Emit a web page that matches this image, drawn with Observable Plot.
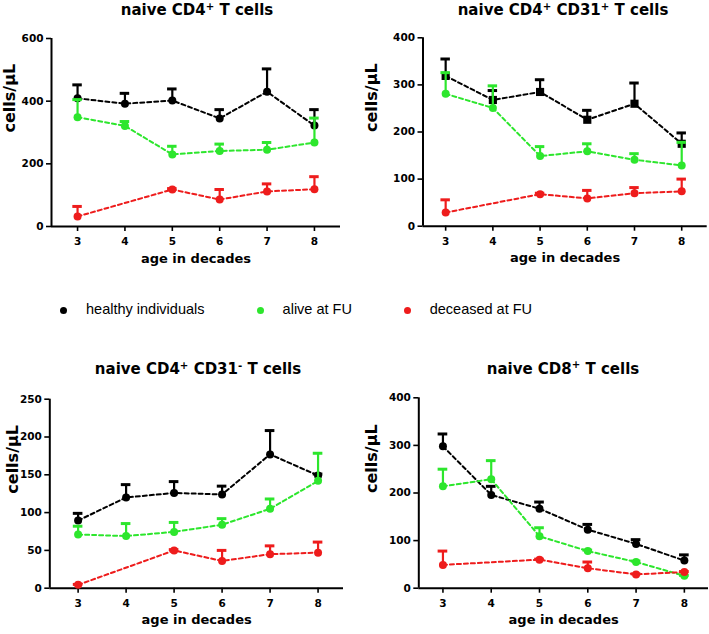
<!DOCTYPE html>
<html>
<head>
<meta charset="utf-8">
<script src="https://cdn.jsdelivr.net/npm/d3@7"></script>
<script src="https://cdn.jsdelivr.net/npm/@observablehq/plot@0.6"></script>
<style>
  html, body { margin: 0; padding: 0; background: #fff; }
  #page { position: relative; width: 709px; height: 634px; overflow: hidden; background: #fff; }
  .panel { position: absolute; }
  .title { position: absolute; font-family: "DejaVu Sans", sans-serif; font-weight: bold; font-size: 15px; line-height: 15px; white-space: nowrap; transform: translateX(-50%); color: #000; }
  .title sup { font-size: 0.68em; line-height: 0; vertical-align: baseline; position: relative; top: -0.5em; }
  .legend { position: absolute; font-family: "Liberation Sans", Arial, sans-serif; font-size: 14.5px; color: #000; white-space: nowrap; }
  .ldot { position: absolute; width: 7px; height: 7px; border-radius: 50%; }
  svg g[aria-label="x-axis tick"] path, svg g[aria-label="y-axis tick"] path { stroke-width: 1.6; }
</style>
</head>
<body>
<div id="page"></div>
<script>
// ---------- data ----------
const ages = [3, 4, 5, 6, 7, 8];
const deceasedAges = [3, 5, 6, 7, 8];
const seriesNames = ["healthy individuals", "alive at FU", "deceased at FU"];
const seriesColors = ["#000000", "#2de62d", "#ee1c1c"];

// naive CD4+ T cells
const cd4Healthy = [409, 392, 402, 345, 430, 322];
const cd4HealthyTop = [452, 425, 439, 373, 503, 373];
const cd4Alive = [349, 321, 230, 241, 245, 268];
const cd4AliveTop = [405, 335, 256, 263, 268, 346];
const cd4Deceased = [32, 118, 86, 112, 119];
const cd4DeceasedTop = [64, 121, 118, 136, 159];
const cd4Ticks = [0, 200, 400, 600];

// naive CD4+ CD31+ T cells
const cd31pHealthy = [319, 268, 285, 226, 260, 175];
const cd31pHealthyTop = [355, 288, 311, 246, 304, 198];
const cd31pAlive = [281, 251, 149, 159, 141, 129];
const cd31pAliveTop = [326, 298, 169, 175, 154, 178];
const cd31pDeceased = [29, 68, 59, 70, 74];
const cd31pDeceasedTop = [56, 70, 76, 82, 100];
const cd31pTicks = [0, 100, 200, 300, 400];

// naive CD4+ CD31- T cells
const cd31nHealthy = [89.5, 120, 126, 124, 177, 149];
const cd31nHealthyTop = [99, 137, 141, 135, 208.5, 151];
const cd31nAlive = [71, 69, 74.5, 84, 105, 142];
const cd31nAliveTop = [82, 85.5, 87, 92, 118, 178.5];
const cd31nDeceased = [4.4, 50, 36, 45, 47];
const cd31nDeceasedTop = [5, 51, 50, 56, 61];
const cd31nTicks = [0, 50, 100, 150, 200, 250];

// naive CD8+ T cells
const cd8Healthy = [298, 196, 167, 123, 93, 58];
const cd8HealthyTop = [324, 214, 181, 134, 102, 70];
const cd8Alive = [214, 229, 109, 78, 55, 26];
const cd8AliveTop = [250, 268, 127, 80, 57, 27];
const cd8Deceased = [49, 60, 42, 29, 34];
const cd8DeceasedTop = [78, 61, 55, 30, 35];
const cd8Ticks = [0, 100, 200, 300, 400];

// ---------- drawing ----------
const page = document.getElementById("page");

function rows(xs, vals, tops) {
  return xs.map((a, i) => ({age: a, v: vals[i], top: tops[i]}));
}

function seriesMarks(data, color, symbol) {
  return [
    Plot.line(data, {x: "age", y: "v", stroke: color, strokeWidth: 2, strokeDasharray: "4,3"}),
    Plot.ruleX(data, {x: "age", y1: "v", y2: "top", stroke: color, strokeWidth: 2.2}),
    Plot.ruleY(data, {y: "top", x1: d => d.age - 0.1, x2: d => d.age + 0.1, stroke: color, strokeWidth: 3}),
    Plot.dot(data, {x: "age", y: "v", fill: color, r: symbol === "square" ? 4.6 : 4, symbol: symbol || "circle"})
  ];
}

function panel(cfg) {
  const healthy = rows(ages, cfg.healthy, cfg.healthyTop);
  const alive = rows(ages, cfg.alive, cfg.aliveTop);
  const deceased = rows(deceasedAges, cfg.deceased, cfg.deceasedTop);
  const yMax = cfg.yTicks[cfg.yTicks.length - 1];
  const chart = Plot.plot({
    width: cfg.width,
    height: cfg.height,
    marginLeft: cfg.m[0], marginRight: cfg.m[1], marginTop: cfg.m[2], marginBottom: cfg.m[3],
    style: {fontFamily: "DejaVu Sans, sans-serif", fontWeight: "bold", fontSize: "10.5px", color: "#000", background: "transparent", overflow: "visible"},
    x: {domain: cfg.xDomain, ticks: ages, tickFormat: d => String(d), tickSize: 5, tickPadding: 6, label: null},
    y: {domain: [0, yMax], ticks: cfg.yTicks, tickFormat: d => String(d), tickSize: 5, tickPadding: 3, label: null},
    marks: [
      Plot.ruleX([cfg.xDomain[0]], {strokeWidth: 2}),
      Plot.ruleY([0], {strokeWidth: 2}),
      ...seriesMarks(healthy, seriesColors[0], cfg.square ? "square" : "circle"),
      ...seriesMarks(alive, seriesColors[1]),
      ...seriesMarks(deceased, seriesColors[2]),
      Plot.text(["age in decades"], {text: d => d, frameAnchor: "bottom", dy: 36, fontSize: 13}),
      Plot.text(["cells/\u03bcL"], {text: d => d, frameAnchor: "left", rotate: -90, dx: cfg.yLabelDx, fontSize: 16})
    ]
  });
  const wrap = document.createElement("div");
  wrap.className = "panel";
  wrap.style.left = cfg.left + "px";
  wrap.style.top = cfg.top + "px";
  wrap.appendChild(chart);
  page.appendChild(wrap);

  const t = document.createElement("div");
  t.className = "title";
  t.style.left = cfg.titleX + "px";
  t.style.top = cfg.titleY + "px";
  t.innerHTML = cfg.title;
  page.appendChild(t);
}

panel({
  left: 0, top: 0, width: 354, height: 290, m: [51, 14, 38, 64],
  xDomain: [2.45, 8.55], yTicks: cd4Ticks, yLabelDx: -42,
  healthy: cd4Healthy, healthyTop: cd4HealthyTop, alive: cd4Alive, aliveTop: cd4AliveTop,
  deceased: cd4Deceased, deceasedTop: cd4DeceasedTop,
  title: "naive CD4<sup>+</sup> T cells", titleX: 197, titleY: 3
});
panel({
  left: 354, top: 0, width: 355, height: 290, m: [68.5, 2.3, 37.3, 64.3],
  xDomain: [2.52, 8.54], yTicks: cd31pTicks, yLabelDx: -51, square: true,
  healthy: cd31pHealthy, healthyTop: cd31pHealthyTop, alive: cd31pAlive, aliveTop: cd31pAliveTop,
  deceased: cd31pDeceased, deceasedTop: cd31pDeceasedTop,
  title: "naive CD4<sup>+</sup> CD31<sup>+</sup> T cells", titleX: 563, titleY: 3
});
panel({
  left: 0, top: 320, width: 354, height: 314, m: [49.3, 11, 78.7, 46.3],
  xDomain: [2.41, 8.53], yTicks: cd31nTicks, yLabelDx: -37,
  healthy: cd31nHealthy, healthyTop: cd31nHealthyTop, alive: cd31nAlive, aliveTop: cd31nAliveTop,
  deceased: cd31nDeceased, deceasedTop: cd31nDeceasedTop,
  title: "naive CD4<sup>+</sup> CD31<sup>-</sup> T cells", titleX: 198, titleY: 362
});
panel({
  left: 354, top: 320, width: 355, height: 314, m: [64.3, 1, 77.3, 46.3],
  xDomain: [2.5, 8.5], yTicks: cd8Ticks, yLabelDx: -47,
  healthy: cd8Healthy, healthyTop: cd8HealthyTop, alive: cd8Alive, aliveTop: cd8AliveTop,
  deceased: cd8Deceased, deceasedTop: cd8DeceasedTop,
  title: "naive CD8<sup>+</sup> T cells", titleX: 563, titleY: 361.5
});

// legend
const legendDotX = [63.5, 260, 407.7];
const legendTextX = [86, 282.6, 429.7];
seriesNames.forEach((name, i) => {
  const d = document.createElement("div");
  d.className = "ldot";
  d.style.left = (legendDotX[i] - 3.5) + "px";
  d.style.top = (310 - 3.5) + "px";
  d.style.background = seriesColors[i];
  page.appendChild(d);
  const t = document.createElement("div");
  t.className = "legend";
  t.style.left = legendTextX[i] + "px";
  t.style.top = "301px";
  t.textContent = name;
  page.appendChild(t);
});
</script>
</body>
</html>
